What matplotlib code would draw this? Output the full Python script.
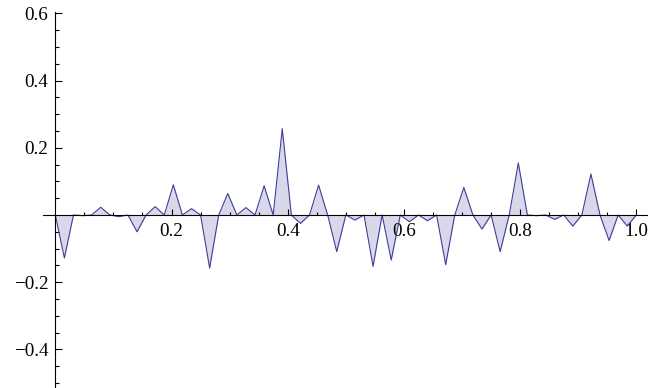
import matplotlib
matplotlib.use('Agg')
import matplotlib.pyplot as plt
import numpy as np

plt.rcParams['font.family'] = ['Liberation Serif', 'DejaVu Serif']

# sample values, one per 1/64 step from 0 to 1
values = [
    0.0, -0.128, 0.0, -0.002, 0.0, 0.023, 0.0, -0.005,
    0.0, -0.050, 0.0, 0.025, 0.0, 0.090, 0.0, 0.019,
    0.0, -0.158, 0.0, 0.064, 0.0, 0.022, 0.0, 0.087,
    0.0, 0.257, 0.0, -0.025, 0.0, 0.089, 0.0, -0.109,
    0.0, -0.015, 0.0, -0.153, 0.0, -0.134, 0.0, -0.020,
    0.0, -0.017, 0.0, -0.148, 0.0, 0.082, 0.0, -0.042,
    0.0, -0.109, 0.0, 0.155, 0.0, -0.002, 0.0, -0.013,
    0.0, -0.033, 0.0, 0.122, 0.0, -0.076, 0.0, -0.033,
    0.0,
]
xticks = [0.2, 0.4, 0.6, 0.8, 1.0]
xticklabels = ['0.2', '0.4', '0.6', '0.8', '1.0']
yticks = [-0.4, -0.2, 0.2, 0.4, 0.6]
yticklabels = ['\u22120.4', '\u22120.2', '0.2', '0.4', '0.6']

line_color = '#3d3d99'
x = np.linspace(0, 1, len(values))
y = np.array(values)

fig = plt.figure(figsize=(6.48, 3.88), dpi=100)
ax = fig.add_axes([0, 0, 1, 1])
ax.patch.set_alpha(0)

ax.fill_between(x, y, 0, color=line_color, alpha=0.2, linewidth=0)
ax.plot(x, y, color=line_color, linewidth=0.8)

ax.set_xlim(-0.0952, 1.0201)
ax.set_ylim(-0.515, 0.640)

for s in ['top', 'right']:
    ax.spines[s].set_visible(False)
ax.spines['left'].set_position(('data', 0))
ax.spines['bottom'].set_position(('data', 0))
ax.spines['left'].set_bounds(-0.515, 0.605)
ax.spines['bottom'].set_bounds(-0.022, 1.03)
for s in ['left', 'bottom']:
    ax.spines[s].set_linewidth(0.8)

ax.set_xticks(xticks)
ax.set_xticklabels(xticklabels)
ax.set_xticks([v for v in np.arange(1, 20) * 0.05 if abs(v / 0.2 - round(v / 0.2)) > 1e-6], minor=True)
ax.set_yticks(yticks)
ax.set_yticklabels(yticklabels)
ax.set_yticks([v for v in np.arange(-10, 12) * 0.05 if abs(v / 0.2 - round(v / 0.2)) > 1e-6], minor=True)

ax.tick_params(axis='both', which='both', direction='in', width=0.8, labelsize=13.8)
ax.tick_params(axis='x', which='major', length=4, pad=5.5)
ax.tick_params(axis='x', which='minor', length=2.5)
ax.tick_params(axis='y', which='major', length=5, pad=5)
ax.tick_params(axis='y', which='minor', length=3)

fig.savefig('out.png', dpi=100)
